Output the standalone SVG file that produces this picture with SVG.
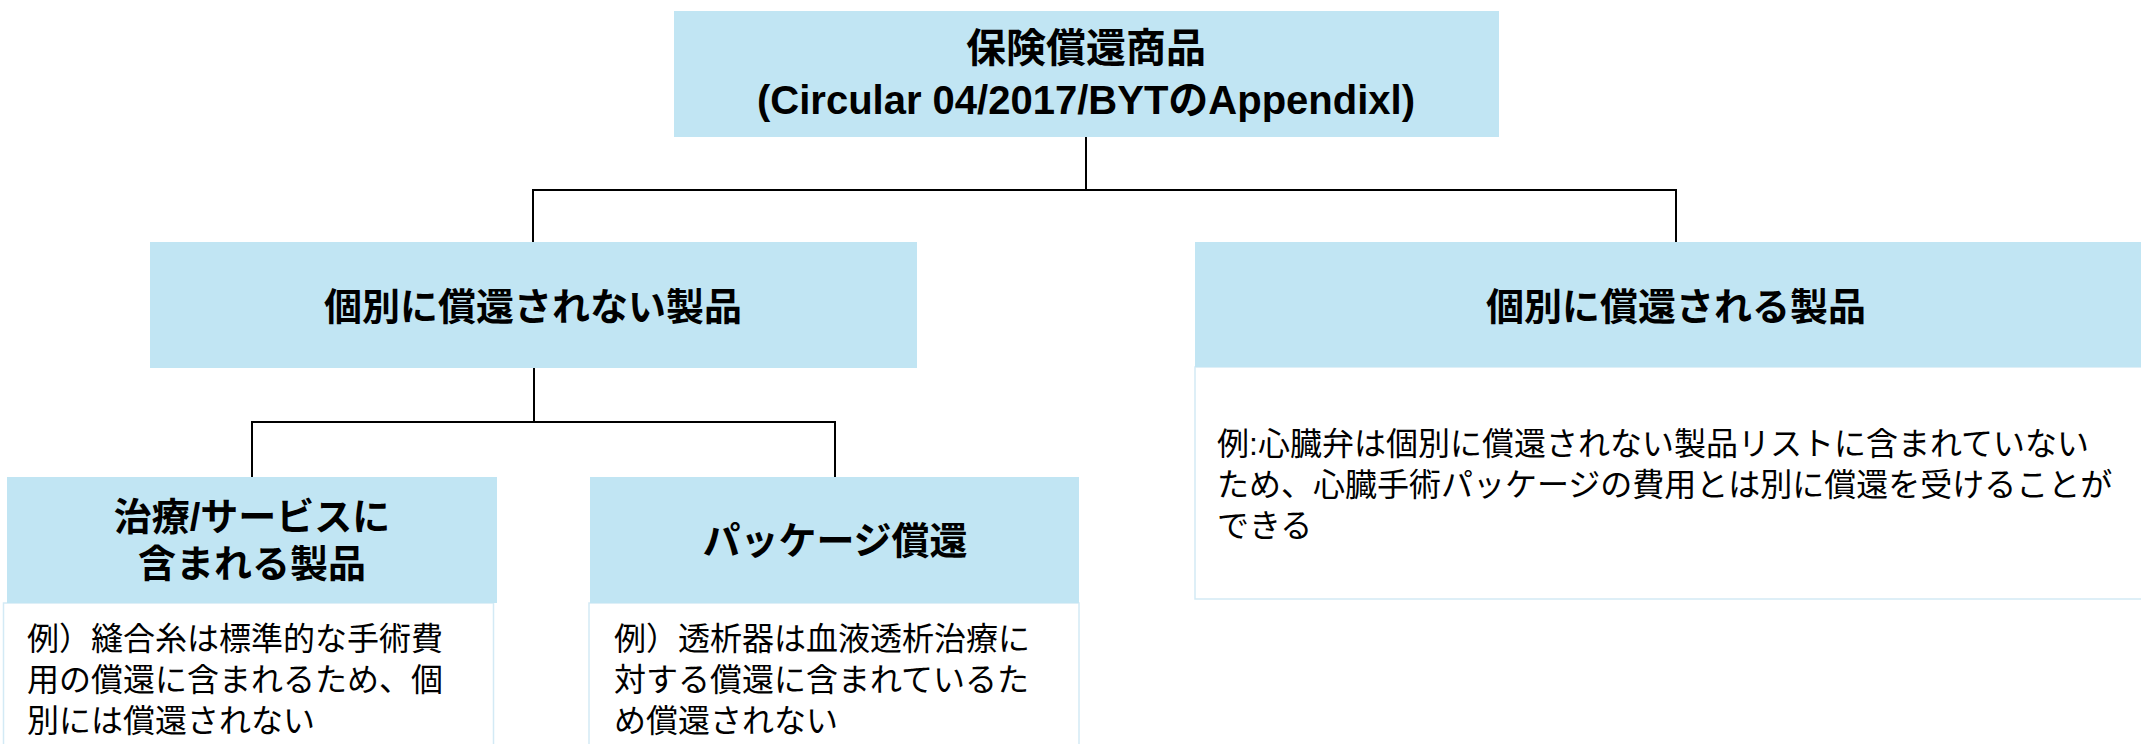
<svg xmlns="http://www.w3.org/2000/svg" width="2141" height="744" viewBox="0 0 2141 744">
<style>
.hdr{fill:#C1E5F3;stroke:none}
.body{fill:#FFFFFF;stroke:#D3EAF5;stroke-width:1.5}
.t{font-family:"Liberation Sans","Noto Sans CJK JP",sans-serif;fill:#000}
.b{font-weight:bold;text-anchor:middle}
.h40{font-size:40px}
.h38{font-size:38px}
.n{font-size:32px;font-weight:normal}
.c{fill:none;stroke:#000;stroke-width:2}
</style>
<rect width="2141" height="744" fill="#FFFFFF"/>
<g id="connectors">
<path class="c" d="M1086,137 V190 M533,190 H1676 M533,189 V243 M1676,189 V243"/>
<path class="c" d="M534,368 V422 M252,422 H835 M252,421 V477 M835,421 V477"/>
</g>
<g id="node-root">
<rect class="hdr" x="674" y="11" width="825" height="126"/>
<text class="t b h40" x="1086" y="62">保険償還商品</text>
<text class="t b h40" x="1086" y="114">(Circular 04/2017/BYTのAppendixl)</text>
</g>
<g id="node-not-separate">
<rect class="hdr" x="150" y="242" width="767" height="126"/>
<text class="t b h38" x="533" y="320">個別に償還されない製品</text>
</g>
<g id="node-separate">
<rect class="body" x="1195" y="367" width="970" height="232"/>
<rect class="hdr" x="1195" y="242" width="970" height="125"/>
<text class="t b h38" x="1676" y="320">個別に償還される製品</text>
<text class="t n" x="1217" y="455">例:心臓弁は個別に償還されない製品リストに含まれていない</text>
<text class="t n" x="1217" y="496">ため、心臓手術パッケージの費用とは別に償還を受けることが</text>
<text class="t n" x="1217" y="537">できる</text>
</g>
<g id="node-included">
<rect class="body" x="3.5" y="603" width="490" height="160"/>
<rect class="hdr" x="7" y="477" width="490" height="126"/>
<text class="t b h38" x="252" y="530">治療/サービスに</text>
<text class="t b h38" x="252" y="577">含まれる製品</text>
<text class="t n" x="27" y="650">例）縫合糸は標準的な手術費</text>
<text class="t n" x="27" y="691">用の償還に含まれるため、個</text>
<text class="t n" x="27" y="732">別には償還されない</text>
</g>
<g id="node-package">
<rect class="body" x="589" y="603" width="490" height="160"/>
<rect class="hdr" x="590" y="477" width="489" height="126"/>
<text class="t b h38" x="835" y="554">パッケージ償還</text>
<text class="t n" x="614" y="650">例）透析器は血液透析治療に</text>
<text class="t n" x="614" y="691">対する償還に含まれているた</text>
<text class="t n" x="614" y="732">め償還されない</text>
</g>
</svg>
